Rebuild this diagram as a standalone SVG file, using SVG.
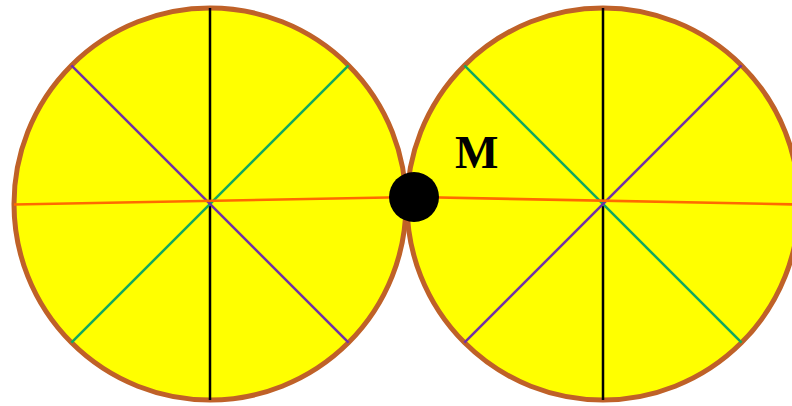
<svg xmlns="http://www.w3.org/2000/svg" width="792" height="406" viewBox="0 0 792 406">
<style>
.wheel{fill:#FFFF00;stroke:#BF6128;stroke-width:5}
.blk{stroke:#000;stroke-width:2.5}
.grn{stroke:#10A860;stroke-width:2.5}
.pur{stroke:#7030A8;stroke-width:2.5}
.red{stroke:#FF6A00;stroke-width:2.6}
.lbl{font-family:"Liberation Serif",serif;font-weight:bold;font-size:46px;fill:#000}
</style>
<rect width="792" height="406" fill="#fff"/>
<g id="wheel-left">
<circle class="wheel" cx="210" cy="204" r="196"/>
<line class="blk" x1="210" y1="8" x2="210" y2="400"/>
<line class="grn" x1="71.4" y1="342.6" x2="348.6" y2="65.4"/>
<line class="pur" x1="71.4" y1="65.4" x2="348.6" y2="342.6"/>
</g>
<g id="wheel-right">
<circle class="wheel" cx="603" cy="204" r="196"/>
<line class="blk" x1="603" y1="8" x2="603" y2="400"/>
<line class="grn" x1="464.4" y1="65.4" x2="741.6" y2="342.6"/>
<line class="pur" x1="464.4" y1="342.6" x2="741.6" y2="65.4"/>
</g>
<g id="connectors">
<line class="red" x1="14" y1="204.5" x2="414" y2="197"/>
<line class="red" x1="414" y1="197" x2="799" y2="204.5"/>
</g>
<g id="point-M">
<circle cx="414" cy="197" r="25" fill="#000"/>
<text class="lbl" x="455" y="168">M</text>
</g>
</svg>
